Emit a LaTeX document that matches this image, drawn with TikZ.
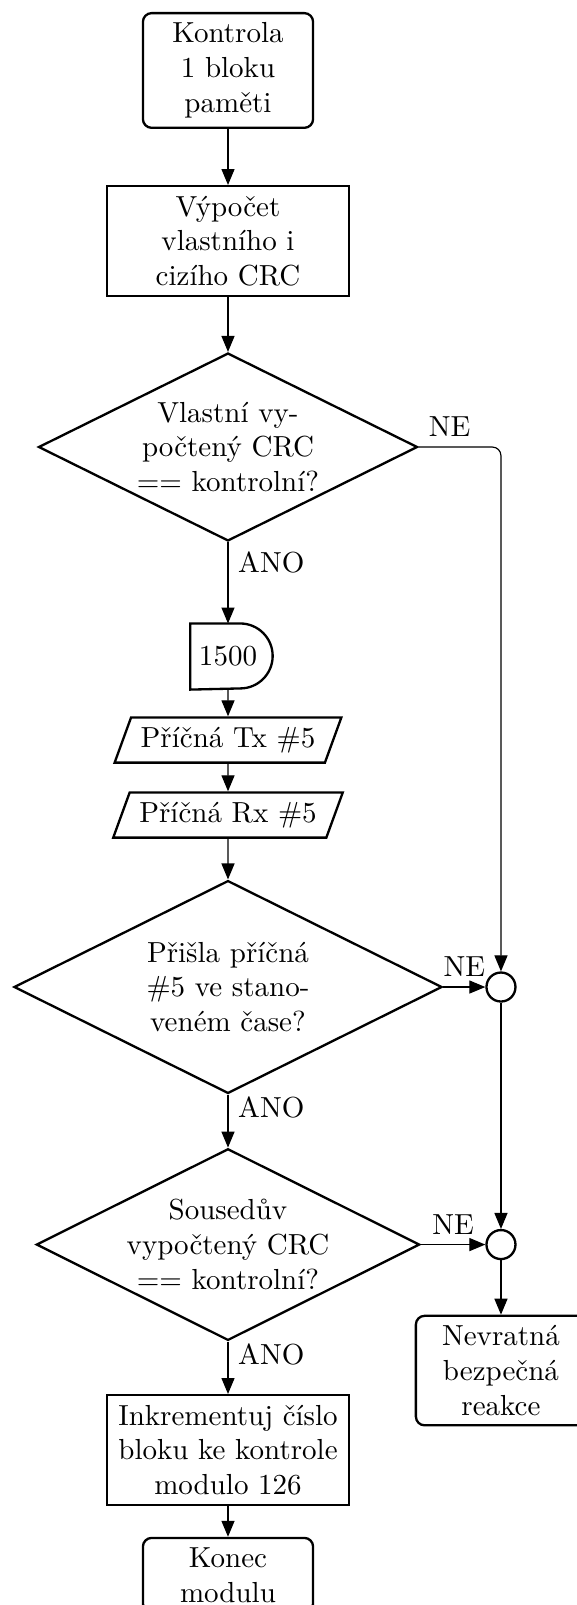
\documentclass[tikz,border=0pt]{standalone}
\usetikzlibrary{shapes.geometric,arrows.meta}

\tikzset{
    terminal/.style={rectangle, rounded corners=3pt, draw, thick, text width=52pt, align=center},
    process/.style={rectangle, draw, thick, text width=77pt, align=center},
    decision/.style={diamond, aspect=2, draw, thick, align=center, inner sep=0pt},
    inout/.style={trapezium, trapezium left angle=70, trapezium right angle=110, draw, thick},
    waitbox/.style={rectangle, minimum width=28pt, minimum height=22.4pt, inner sep=0pt},
    junction/.style={circle, draw, thick, minimum size=10pt, inner sep=0pt},
    flow/.style={-{Triangle[length=5.5pt,width=4.5pt]}}
}

\begin{document}
\begin{tikzpicture}
    \useasboundingbox (0,0) rectangle (6.992,-19.450);
    \path
    % main column
    +(2.763, -0.854)  node[terminal] (start) {Kontrola\\1 bloku\\paměti}
    +(2.763, -2.921)  node[process]  (calc)  {Výpočet\\vlastního i\\cizího CRC}
    +(2.763, -5.417)  node[decision, minimum width=130.7pt, minimum height=64.8pt] (own)
        {Vlastní vy-\\počtený CRC\\== kontrolní?}
    +(2.763, -7.956)  node[waitbox]  (delay) {1500}
    +(2.763, -8.968)  node[inout]    (tx)    {Příčná Tx \#5}
    +(2.763, -9.877)  node[inout]    (rx)    {Příčná Rx \#5}
    +(2.763, -11.961) node[decision, minimum width=147.6pt, minimum height=73.4pt] (arrived)
        {Přišla příčná\\\#5 ve stano-\\veném čase?}
    +(2.763, -15.082) node[decision, minimum width=130.7pt, minimum height=65.2pt] (neighbour)
        {Sousedův\\vypočtený CRC\\== kontrolní?}
    +(2.763, -17.572) node[process]  (next)  {Inkrementuj číslo\\bloku ke kontrole\\modulo 126}
    +(2.763, -19.087) node[terminal] (stop)  {Konec\\modulu}
    % error branch
    +(6.071, -11.961) node[junction] (j1) {}
    +(6.071, -15.082) node[junction] (j2) {}
    +(6.071, -16.609) node[terminal] (fail) {Nevratná\\bezpečná\\reakce};

    % delay symbol outline, a little right of the text
    \draw[thick] ([xshift=1.2pt]delay.north west) -- ([xshift=-10pt]delay.north east)
        arc[start angle=90, end angle=-90, radius=11.2pt] -- ([xshift=1.2pt]delay.south west) -- cycle;

    \draw[flow] (start) -- (calc);
    \draw[flow] (calc) -- (own);
    \draw[flow] (own) -- node[pos=0.25, right] {ANO} (delay);
    \draw[flow] (delay) -- (tx);
    \draw[flow] (tx) -- (rx);
    \draw[flow] (rx) -- (arrived);
    \draw[flow] (arrived) -- node[pos=0.25, right] {ANO} (neighbour);
    \draw[flow] (neighbour) -- node[pos=0.25, right] {ANO} (next);
    \draw[flow] (next) -- (stop);

    \draw[flow, rounded corners=3pt] (own.east) node[above right] {NE} -| (j1);
    \draw[flow] (arrived.east) -- node[midway, above] {NE} (j1);
    \draw[flow] (neighbour.east) -- node[midway, above] {NE} (j2);
    \draw[flow] (j1) -- (j2);
    \draw[flow] (j2) -- (fail);
\end{tikzpicture}
\end{document}
